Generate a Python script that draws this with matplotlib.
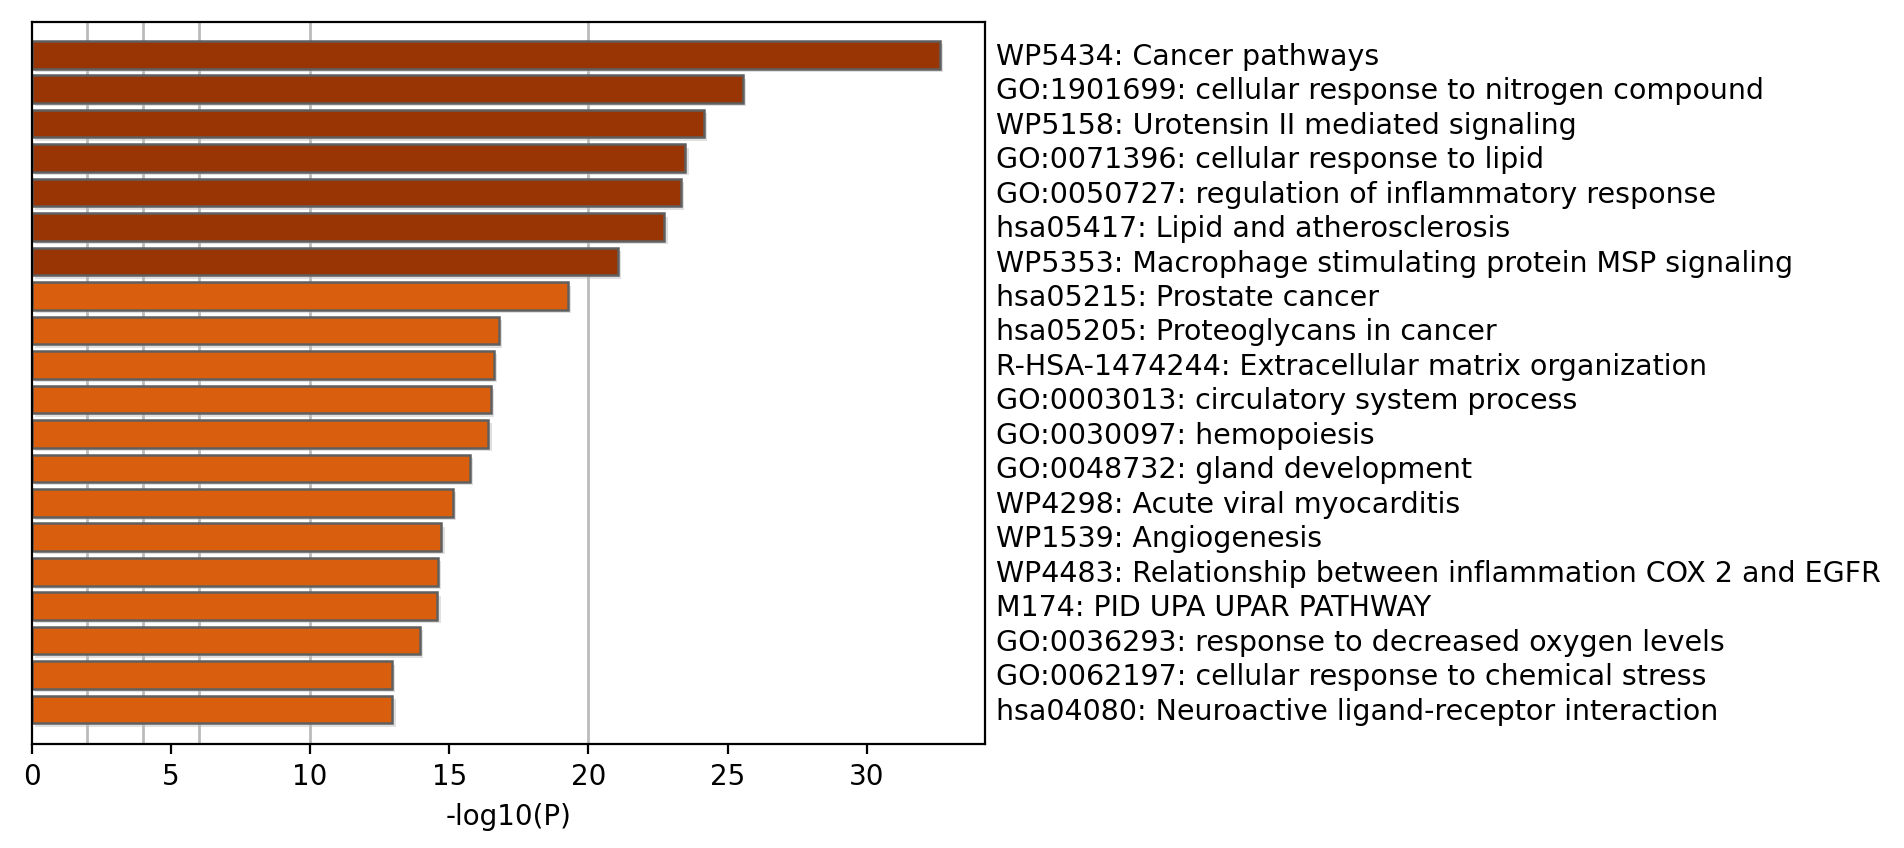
import matplotlib
matplotlib.use('Agg')
import matplotlib.pyplot as plt
import matplotlib.patheffects as pe
import numpy as np

# enrichment terms, top to bottom
terms = [
    "WP5434: Cancer pathways",
    "GO:1901699: cellular response to nitrogen compound",
    "WP5158: Urotensin II mediated signaling",
    "GO:0071396: cellular response to lipid",
    "GO:0050727: regulation of inflammatory response",
    "hsa05417: Lipid and atherosclerosis",
    "WP5353: Macrophage stimulating protein MSP signaling",
    "hsa05215: Prostate cancer",
    "hsa05205: Proteoglycans in cancer",
    "R-HSA-1474244: Extracellular matrix organization",
    "GO:0003013: circulatory system process",
    "GO:0030097: hemopoiesis",
    "GO:0048732: gland development",
    "WP4298: Acute viral myocarditis",
    "WP1539: Angiogenesis",
    "WP4483: Relationship between inflammation COX 2 and EGFR",
    "M174: PID UPA UPAR PATHWAY",
    "GO:0036293: response to decreased oxygen levels",
    "GO:0062197: cellular response to chemical stress",
    "hsa04080: Neuroactive ligand-receptor interaction",
]
log_p = [32.62, 25.56, 24.15, 23.48, 23.33, 22.73, 21.06, 19.27, 16.78, 16.60,
         16.49, 16.40, 15.75, 15.14, 14.72, 14.59, 14.57, 13.94, 12.95, 12.96]
n_dark = 7
grid_x = [2, 4, 6, 10, 20]

DARK = '#993404'
ORANGE = '#d95f0e'

fig = plt.figure(figsize=(9.52, 4.24), dpi=200)
ax = fig.add_axes([0.01665, 0.1226, 0.5007, 0.8514])

n = len(terms)
ypos = np.arange(n)[::-1]
colors = [DARK if i < n_dark else ORANGE for i in range(n)]

for gx in grid_x:
    ax.axvline(gx, color='#bbbbbb', linewidth=1.0, zorder=0)

bars = ax.barh(ypos, log_p, height=0.8, color=colors, edgecolor='#5f5f5f',
               linewidth=0.9, zorder=2)
for b in bars:
    b.set_path_effects([pe.SimplePatchShadow(offset=(1.2, -1.2),
                                             shadow_rgbFace='#bbbbbb', alpha=0.45),
                        pe.Normal()])

ax.set_ylim(-1.0, n - 0.05)
ax.yaxis.tick_right()
ax.set_yticks(ypos)
ax.set_yticklabels(terms)
ax.tick_params(axis='y', length=0, pad=4, labelsize=10.25)
for lbl in ax.get_yticklabels():
    lbl.set_y(lbl.get_position()[1])
    lbl.set_transform(lbl.get_transform() + matplotlib.transforms.ScaledTranslation(0, 1 / 200, fig.dpi_scale_trans))
ax.set_xticks([0, 5, 10, 15, 20, 25, 30])
ax.set_xlabel('-log10(P)')

fig.savefig('out.png', dpi=200, facecolor='white')
